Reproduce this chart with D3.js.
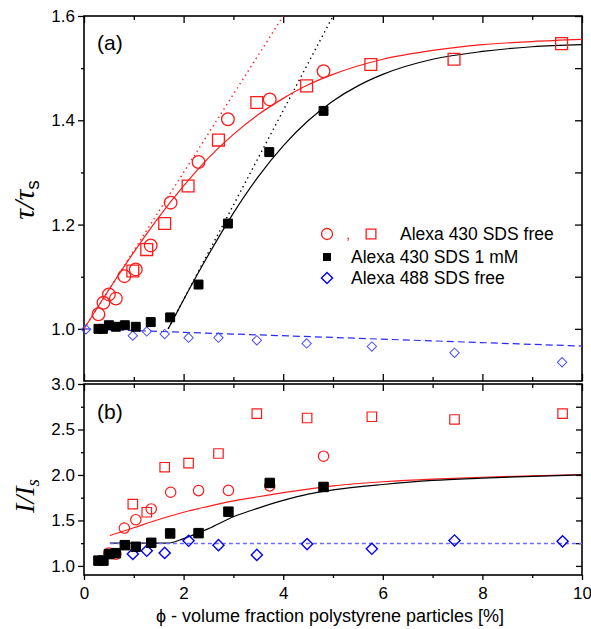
<!DOCTYPE html>
<html>
<head>
<meta charset="utf-8">
<script src="https://cdn.jsdelivr.net/npm/d3@7"></script>
<style>
  body { margin: 0; background: #fff; }
  text { font-family: "Liberation Sans", Arial, sans-serif; }
</style>
</head>
<body>
<div id="grafico"></div>
<script>
// ---- data ----
// panel (a): tau / tau_s
var phiCircA = [0.29, 0.39, 0.5, 0.64, 0.81, 1.04, 1.34, 1.74, 2.3, 2.89, 3.73, 4.81]
var tauCircA = [1.028, 1.05, 1.066, 1.058, 1.101, 1.114, 1.16, 1.242, 1.32, 1.402, 1.44, 1.494]
var phiSqA = [0.98, 1.26, 1.62, 2.09, 2.70, 3.47, 4.47, 5.76, 7.43, 9.59]
var tauSqA = [1.111, 1.152, 1.202, 1.274, 1.362, 1.434, 1.466, 1.507, 1.517, 1.547]
var phiFillA = [0.29, 0.38, 0.5, 0.64, 0.82, 1.04, 1.34, 1.73, 2.3, 2.89, 3.72, 4.81]
var tauFillA = [1.0, 1.0, 1.007, 1.004, 1.007, 1.004, 1.013, 1.022, 1.085, 1.202, 1.339, 1.418]
var phiDiamA = [0.04, 0.98, 1.26, 1.62, 2.1, 2.7, 3.47, 4.47, 5.78, 7.44, 9.6]
var tauDiamA = [0.999, 0.987, 0.995, 0.99, 0.983, 0.983, 0.978, 0.972, 0.966, 0.954, 0.936]

// fit lines (a)
var fitRedPhiA = [0, 0.5, 1, 1.5, 2, 2.5, 3, 3.5, 4, 4.5, 5, 6, 7, 8, 9, 10]
var fitRedTauA = [1.0, 1.075, 1.147, 1.214, 1.274, 1.328, 1.373, 1.411, 1.442, 1.468, 1.488, 1.517, 1.534, 1.545, 1.551, 1.555]
var fitBlackPhiA = [1.69, 2, 2.5, 3, 3.5, 4, 4.5, 5, 5.5, 6, 7, 8, 9, 10]
var fitBlackTauA = [1.0, 1.056, 1.142, 1.222, 1.292, 1.351, 1.399, 1.437, 1.466, 1.488, 1.517, 1.532, 1.541, 1.545]
var dotRedPhiA = [0, 4.0]
var dotRedTauA = [1.0, 1.6]
var dotBlackPhiA = [1.69, 5.0]
var dotBlackTauA = [1.0, 1.6]
var dashBluePhiA = [0, 10]
var dashBlueTauA = [1.0, 0.967]

// panel (b): I / I_s
var phiCircB = [0.5, 0.64, 0.81, 1.04, 1.35, 1.74, 2.3, 2.9, 3.73, 4.81]
var intCircB = [1.14, 1.13, 1.416, 1.508, 1.626, 1.81, 1.828, 1.83, 1.88, 2.206]
var phiSqB = [0.98, 1.26, 1.62, 2.1, 2.7, 3.47, 4.48, 5.78, 7.44, 9.61]
var intSqB = [1.68, 1.59, 2.085, 2.13, 2.236, 2.674, 2.626, 2.64, 2.61, 2.674]
var phiFillB = [0.29, 0.39, 0.5, 0.64, 0.82, 1.04, 1.35, 1.73, 2.3, 2.9, 3.73, 4.81]
var intFillB = [1.058, 1.058, 1.13, 1.14, 1.228, 1.21, 1.254, 1.357, 1.36, 1.596, 1.912, 1.868]
var phiDiamB = [0.98, 1.26, 1.62, 2.1, 2.7, 3.47, 4.48, 5.78, 7.44, 9.61]
var intDiamB = [1.132, 1.166, 1.143, 1.276, 1.228, 1.121, 1.24, 1.188, 1.28, 1.27]

// fit lines (b)
var fitRedPhiB = [0.52, 1, 1.5, 2, 2.5, 3, 3.5, 4, 4.5, 5, 6, 7, 8, 9, 10]
var fitRedIntB = [1.334, 1.42, 1.51, 1.59, 1.655, 1.715, 1.76, 1.805, 1.845, 1.88, 1.925, 1.955, 1.975, 1.99, 2.005]
var fitBlackPhiB = [0.52, 1.66, 2.0, 2.3, 2.5, 3.0, 3.5, 4.0, 4.5, 5.0, 6, 7, 8, 9, 10]
var fitBlackIntB = [1.25, 1.25, 1.30, 1.365, 1.41, 1.54, 1.635, 1.72, 1.79, 1.835, 1.895, 1.94, 1.965, 1.985, 2.0]
var dashBluePhiB = [0.52, 10]
var dashBlueIntB = [1.246, 1.246]

// ticks
var xMajor = [0, 2, 4, 6, 8, 10]
var xMinor = [1, 3, 5, 7, 9]
var yMajorA = [1.0, 1.2, 1.4, 1.6]
var yMinorA = [1.1, 1.3, 1.5]
var yMajorB = [1.0, 1.5, 2.0, 2.5, 3.0]
var yMinorB = [1.25, 1.75, 2.25, 2.75]

var legendLabels = ["Alexa 430 SDS free", "Alexa 430 SDS 1 mM", "Alexa 488 SDS free"]

// ---- layout ----
var width = 591,
    height = 629
var left = 84, right = 582
var topA = 16, botA = 381
var topB = 384, botB = 575

var red = "#ff1a1a", blue = "#0000ff"

var svg = d3.select("#grafico")
  .append("svg")
    .attr("width", width)
    .attr("height", height)

var x = d3.scaleLinear().domain([0, 10]).range([left, right])
var yA = d3.scaleLinear().domain([0.9, 1.6]).range([botA, topA])
var yB = d3.scaleLinear().domain([0.9, 3.0]).range([botB, topB])

svg.append("clipPath").attr("id", "clipA")
  .append("rect").attr("x", left).attr("y", topA).attr("width", right - left).attr("height", botA - topA)
svg.append("clipPath").attr("id", "clipB")
  .append("rect").attr("x", left).attr("y", topB).attr("width", right - left).attr("height", botB - topB)

// helper: add an axis and style it
function addAxis(axis, tx, ty, labels) {
  var g = svg.append("g")
    .attr("transform", "translate(" + tx + "," + ty + ")")
    .call(axis)
  g.select(".domain").remove()
  g.selectAll(".tick line").attr("stroke", "#000").attr("stroke-width", 1.3)
  g.selectAll(".tick text").style("font-size", "17px").attr("fill", "#000")
  if (!labels) g.selectAll(".tick text").remove()
  return g
}

// panel (a) axes
addAxis(d3.axisLeft(yA).tickValues(yMajorA).tickSize(6).tickPadding(3).tickFormat(d3.format(".1f")), left, 0, true)
addAxis(d3.axisLeft(yA).tickValues(yMinorA).tickSize(3), left, 0, false)
addAxis(d3.axisLeft(yA).tickValues(yMajorA.concat(yMinorA)).tickSize(7), right, 0, false)
addAxis(d3.axisBottom(x).tickValues(xMajor).tickSize(7), 0, topA, false)
addAxis(d3.axisBottom(x).tickValues(xMinor).tickSize(4), 0, topA, false)
addAxis(d3.axisTop(x).tickValues(xMajor).tickSize(7), 0, botA, false)
addAxis(d3.axisTop(x).tickValues(xMinor).tickSize(4), 0, botA, false)

// panel (b) axes
addAxis(d3.axisLeft(yB).tickValues(yMajorB).tickSize(6).tickPadding(3).tickFormat(d3.format(".1f")), left, 0, true)
addAxis(d3.axisLeft(yB).tickValues(yMinorB).tickSize(3), left, 0, false)
addAxis(d3.axisLeft(yB).tickValues(yMajorB.concat(yMinorB)).tickSize(6), right, 0, false)
addAxis(d3.axisBottom(x).tickValues(xMajor).tickSize(7), 0, topB, false)
addAxis(d3.axisBottom(x).tickValues(xMinor).tickSize(4), 0, topB, false)
addAxis(d3.axisBottom(x).tickValues(xMajor).tickSize(5).tickPadding(7), 0, botB, true)
addAxis(d3.axisBottom(x).tickValues(xMinor).tickSize(3), 0, botB, false)

// frames
svg.append("rect").attr("x", left).attr("y", topA).attr("width", right - left).attr("height", botA - topA)
  .attr("fill", "none").attr("stroke", "#000").attr("stroke-width", 1.6)
svg.append("rect").attr("x", left).attr("y", topB).attr("width", right - left).attr("height", botB - topB)
  .attr("fill", "none").attr("stroke", "#000").attr("stroke-width", 1.6)

// lines
function drawLine(xs, ys, yScale, clip, color, width, dash) {
  var pts = xs.map(function(d, i) { return [d, ys[i]] })
  var line = d3.line()
    .x(function(d) { return x(d[0]) })
    .y(function(d) { return yScale(d[1]) })
    .curve(d3.curveMonotoneX)
  svg.append("path")
    .attr("clip-path", "url(#" + clip + ")")
    .attr("d", line(pts))
    .attr("fill", "none")
    .attr("stroke", color)
    .attr("stroke-width", width)
    .attr("stroke-dasharray", dash || null)
}

// markers
function drawPoints(xs, ys, yScale, shape, size, stroke, fill, sw) {
  var sym = d3.symbol().type(shape === "circle" ? d3.symbolCircle : d3.symbolSquare).size(size)
  svg.append("g")
    .selectAll("path")
    .data(xs.map(function(d, i) { return [d, ys[i]] }))
    .enter()
    .append("path")
      .attr("d", sym)
      .attr("transform", function(d) {
        return "translate(" + x(d[0]) + "," + yScale(d[1]) + ")" + (shape === "diamond" ? " rotate(45)" : "")
      })
      .attr("fill", fill)
      .attr("stroke", stroke)
      .attr("stroke-width", sw)
}

// panel (a)
drawLine(dashBluePhiA, dashBlueTauA, yA, "clipA", "#2b2bff", 1.2, "7,4")
drawLine(dotRedPhiA, dotRedTauA, yA, "clipA", red, 1.4, "1.4,3.6")
drawLine(dotBlackPhiA, dotBlackTauA, yA, "clipA", "#000", 1.4, "1.4,3.6")
drawLine(fitRedPhiA, fitRedTauA, yA, "clipA", red, 1.2)
drawLine(fitBlackPhiA, fitBlackTauA, yA, "clipA", "#000", 1.2)

drawPoints(phiDiamA, tauDiamA, yA, "diamond", 44, "#4d4dff", "none", 1)
drawPoints(phiCircA, tauCircA, yA, "circle", 125, red, "none", 1.3)
drawPoints(phiSqA, tauSqA, yA, "square", 140, red, "none", 1.3)
drawPoints(phiFillA, tauFillA, yA, "square", 80, "#000", "#000", 1)

// panel (b)
drawLine(fitRedPhiB, fitRedIntB, yB, "clipB", red, 1.2)
drawLine(fitBlackPhiB, fitBlackIntB, yB, "clipB", "#000", 1.2)
drawLine(dashBluePhiB, dashBlueIntB, yB, "clipB", "#6b6bff", 1.6, "4,3")

drawPoints(phiDiamB, intDiamB, yB, "diamond", 62, blue, "none", 1.4)
drawPoints(phiCircB, intCircB, yB, "circle", 85, red, "none", 1.2)
drawPoints(phiSqB, intSqB, yB, "square", 90, red, "none", 1.2)
drawPoints(phiFillB, intFillB, yB, "square", 90, "#000", "#000", 1)

// panel letters
svg.append("text").attr("x", 97).attr("y", 50).style("font-size", "21px").text("(a)")
svg.append("text").attr("x", 97).attr("y", 419).style("font-size", "21px").text("(b)")

// legend
var lg = svg.append("g")
lg.append("path").attr("d", d3.symbol().type(d3.symbolCircle).size(95)())
  .attr("transform", "translate(327,234)").attr("fill", "none").attr("stroke", red).attr("stroke-width", 1.3)
lg.append("text").attr("x", 346).attr("y", 239).style("font-size", "15px").attr("fill", red).text(",")
lg.append("path").attr("d", d3.symbol().type(d3.symbolSquare).size(95)())
  .attr("transform", "translate(371,234)").attr("fill", "none").attr("stroke", red).attr("stroke-width", 1.3)
lg.append("text").attr("x", 400).attr("y", 240).style("font-size", "17.5px").text(legendLabels[0])
lg.append("path").attr("d", d3.symbol().type(d3.symbolSquare).size(64)())
  .attr("transform", "translate(327,257)").attr("fill", "#000")
lg.append("text").attr("x", 351).attr("y", 263).style("font-size", "17.5px").text(legendLabels[1])
lg.append("path").attr("d", d3.symbol().type(d3.symbolSquare).size(62)())
  .attr("transform", "translate(327,278) rotate(45)").attr("fill", "none").attr("stroke", blue).attr("stroke-width", 1.4)
lg.append("text").attr("x", 351).attr("y", 284).style("font-size", "17.5px").text(legendLabels[2])

// axis titles
var tA = svg.append("text")
  .attr("transform", "translate(34,200) rotate(-90)")
  .attr("text-anchor", "middle")
  .style("font-family", "'Liberation Serif', 'Times New Roman', serif")
  .style("font-style", "italic")
  .style("font-size", "30px")
tA.append("tspan").text("τ/τ")
tA.append("tspan").attr("dy", "0.25em").style("font-size", "19px").style("font-style", "normal")
  .style("font-family", "'Liberation Sans', Arial, sans-serif").text("s")

var tB = svg.append("text")
  .attr("transform", "translate(34,496) rotate(-90)")
  .attr("text-anchor", "middle")
  .style("font-family", "'Liberation Serif', 'Times New Roman', serif")
  .style("font-style", "italic")
  .style("font-size", "28px")
tB.append("tspan").text("I/I")
tB.append("tspan").attr("dy", "0.25em").style("font-size", "19px").text("s")

svg.append("text")
  .attr("x", 330).attr("y", 622)
  .attr("text-anchor", "middle")
  .style("font-size", "18px")
  .text("ϕ - volume fraction polystyrene particles [%]")
</script>
</body>
</html>
